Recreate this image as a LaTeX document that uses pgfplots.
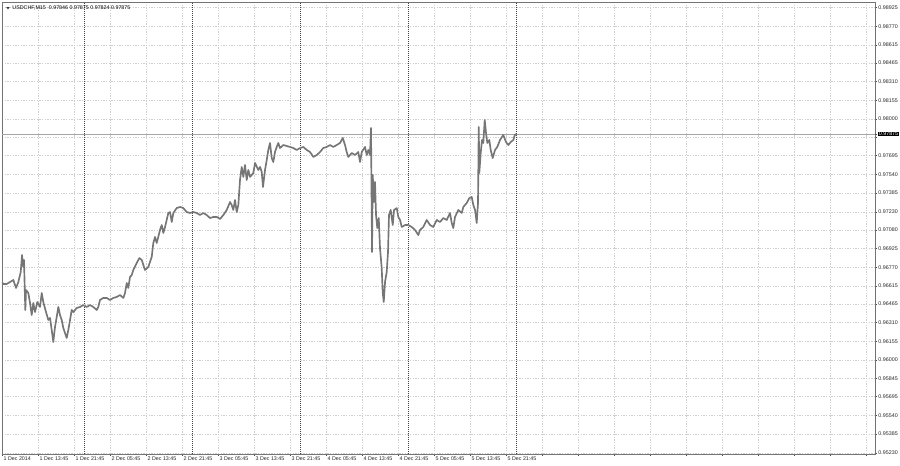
\documentclass[border=0pt]{standalone}
\usepackage{pgfplots}
\pgfplotsset{compat=1.18}
\usepackage{pgfplotstable}
\usepackage{fontspec}
\setmainfont{Liberation Sans}

\definecolor{pricegray}{RGB}{118,118,118}
\definecolor{gridgray}{RGB}{205,205,205}

% hours since 1 Dec 2014 00:00, close price (USDCHF M15)
\pgfplotstableread{
h      p
5.75   0.96647
6.04   0.96631
6.80   0.96631
7.53   0.96647
8.27   0.96664
8.87   0.96598
9.38   0.96647
9.91   0.96730
10.20  0.96871
10.49  0.96772
10.64  0.96830
10.93  0.96415
11.09  0.96581
11.60  0.96556
11.98  0.96473
12.35  0.96373
12.71  0.96473
13.09  0.96398
13.60  0.96481
14.20  0.96440
14.58  0.96556
14.93  0.96481
15.53  0.96398
16.04  0.96332
16.42  0.96349
16.80  0.96249
17.15  0.96149
17.53  0.96274
17.91  0.96357
18.27  0.96440
18.64  0.96373
19.02  0.96332
19.38  0.96266
19.75  0.96224
20.13  0.96183
20.49  0.96249
20.87  0.96332
21.24  0.96415
21.60  0.96398
22.35  0.96432
23.09  0.96440
23.82  0.96456
24.58  0.96440
25.31  0.96456
26.04  0.96440
26.80  0.96415
27.15  0.96440
27.53  0.96498
28.27  0.96515
29.02  0.96515
29.75  0.96498
30.49  0.96515
31.24  0.96523
31.98  0.96539
32.71  0.96515
33.09  0.96556
33.47  0.96639
33.82  0.96598
34.20  0.96689
34.58  0.96705
34.93  0.96747
35.69  0.96805
36.27  0.96846
36.80  0.96830
37.53  0.96747
38.27  0.96772
39.02  0.96855
39.38  0.96971
39.75  0.97021
40.13  0.96971
40.87  0.97079
41.24  0.97120
41.60  0.97054
41.98  0.97104
42.35  0.97162
42.71  0.97220
43.09  0.97228
43.47  0.97145
43.82  0.97220
44.58  0.97261
45.31  0.97270
46.04  0.97261
46.80  0.97228
47.53  0.97220
48.27  0.97228
49.02  0.97220
49.75  0.97203
50.49  0.97220
51.24  0.97203
51.98  0.97178
52.71  0.97187
53.47  0.97187
54.20  0.97170
54.93  0.97203
55.69  0.97245
56.42  0.97311
56.80  0.97286
57.15  0.97245
57.53  0.97328
57.91  0.97228
58.27  0.97286
58.64  0.97494
59.02  0.97602
59.38  0.97519
59.75  0.97618
60.13  0.97494
60.49  0.97577
60.87  0.97519
61.60  0.97552
61.98  0.97635
62.71  0.97577
63.09  0.97602
63.47  0.97560
63.75  0.97436
64.20  0.97577
64.58  0.97660
64.93  0.97743
65.31  0.97801
65.69  0.97676
66.04  0.97643
66.42  0.97726
66.80  0.97768
67.15  0.97801
67.53  0.97759
68.27  0.97784
69.02  0.97776
69.75  0.97768
70.49  0.97759
71.24  0.97743
71.98  0.97759
72.71  0.97768
73.47  0.97743
74.20  0.97726
74.93  0.97685
75.69  0.97701
76.42  0.97726
77.15  0.97759
77.91  0.97768
78.64  0.97784
79.38  0.97768
80.13  0.97784
80.87  0.97801
81.47  0.97842
81.98  0.97784
82.35  0.97726
82.71  0.97685
83.47  0.97718
84.20  0.97701
84.93  0.97726
85.31  0.97643
85.69  0.97726
86.42  0.97768
86.80  0.97701
87.15  0.97743
87.53  0.97701
87.75  0.97925
87.98  0.96896
88.13  0.97535
88.42  0.97311
88.64  0.97477
88.87  0.97203
89.15  0.97095
89.47  0.97178
89.75  0.96929
90.13  0.96763
90.35  0.96564
90.58  0.96481
90.87  0.96647
91.24  0.96730
91.53  0.96896
91.75  0.97203
92.13  0.97245
92.58  0.97120
92.87  0.97245
93.47  0.97261
93.82  0.97187
94.20  0.97162
94.58  0.97104
95.31  0.97120
96.04  0.97120
96.80  0.97104
97.53  0.97079
98.27  0.97037
98.64  0.97079
99.38  0.97104
100.13 0.97162
100.87 0.97120
101.60 0.97104
102.35 0.97162
103.09 0.97145
103.82 0.97178
104.58 0.97162
105.31 0.97220
105.69 0.97137
106.04 0.97095
106.42 0.97187
107.15 0.97245
107.91 0.97220
108.27 0.97270
109.02 0.97303
109.60 0.97344
110.13 0.97353
110.49 0.97286
110.87 0.97245
111.24 0.97137
111.53 0.97303
111.69 0.97934
111.82 0.97552
112.13 0.97718
112.42 0.97826
112.71 0.97801
113.02 0.97992
113.31 0.97884
113.60 0.97801
114.04 0.97826
114.35 0.97743
114.80 0.97676
115.31 0.97743
115.82 0.97768
116.42 0.97826
117.15 0.97867
117.75 0.97809
118.27 0.97784
118.80 0.97809
119.38 0.97826
119.70 0.97867
120.00 0.97875
}\usdchf

\begin{document}
\begin{tikzpicture}
\begin{axis}[
    scale only axis,
    width=654.75pt, height=339pt,
    xmin=5.75, xmax=199.75,
    ymin=0.95220, ymax=0.98971,
    axis line style={black!55, line width=0.6pt},
    tick align=outside,
    major tick length=1.5pt,
    tick style={black!70, line width=0.4pt},
    xtick pos=lower, ytick pos=upper,
    yticklabel pos=right,
    xtick={5.75,13.75,...,197.75},
    xticklabels={1 Dec 2014,1 Dec 13:45,1 Dec 21:45,2 Dec 05:45,2 Dec 13:45,2 Dec 21:45,3 Dec 05:45,3 Dec 13:45,3 Dec 21:45,4 Dec 05:45,4 Dec 13:45,4 Dec 21:45,5 Dec 05:45,5 Dec 13:45,5 Dec 21:45,,,,,,,,,,},
    ytick={0.98925,0.98770,0.98615,0.98465,0.98310,0.98155,0.98000,0.97850,0.97695,0.97540,0.97385,0.97230,0.97080,0.96925,0.96770,0.96615,0.96465,0.96310,0.96155,0.96000,0.95845,0.95695,0.95540,0.95385,0.95230},
    yticklabels={0.98925,0.98770,0.98615,0.98465,0.98310,0.98155,0.98000,,0.97695,0.97540,0.97385,0.97230,0.97080,0.96925,0.96770,0.96615,0.96465,0.96310,0.96155,0.96000,0.95845,0.95695,0.95540,0.95385,0.95230},
    tick label style={font=\fontsize{4}{4.8}\selectfont, black!85},
    xticklabel style={anchor=north west, inner sep=0.6pt, xshift=0.4pt},
    yticklabel style={anchor=west, inner sep=0.6pt, xshift=0.3pt},
    grid=major,
    major grid style={gridgray, dash pattern=on 1pt off 1pt, line width=0.4pt},
    extra x ticks={24,48,72,96,120},
    extra x tick labels={},
    extra x tick style={grid=major, major tick length=0pt,
        major grid style={black!75, dash pattern=on 0.6pt off 0.9pt, line width=0.55pt}},
    extra y ticks={0.97875},
    extra y tick labels={0.97875},
    extra y tick style={grid=major,
        major grid style={black!35, solid, line width=0.4pt},
        yticklabel style={fill=black, text=white, inner sep=0.4pt, xshift=0.5pt}},
    clip=true,
]
\addplot[pricegray, line width=1.25pt, line join=round] table[x=h, y=p] {\usdchf};
\coordinate (bl) at (rel axis cs:0,0);
\fill[black!80] ([xshift=3.2pt, yshift=-3.9pt]rel axis cs:0,1) -- ++(2.6pt,0pt) -- ++(-1.3pt,-1.6pt) -- cycle;
\node[anchor=west, inner sep=0pt, font=\fontsize{4}{4.8}\selectfont] at ([xshift=7.6pt, yshift=-4.7pt]rel axis cs:0,1)
    {USDCHF,M15\ \ 0.97846 0.97875 0.97824 0.97875};
\end{axis}
\pgfresetboundingbox
\path (bl) ++(-1.5pt,-9pt) rectangle ++(675pt,349.5pt);
\end{tikzpicture}
\end{document}
